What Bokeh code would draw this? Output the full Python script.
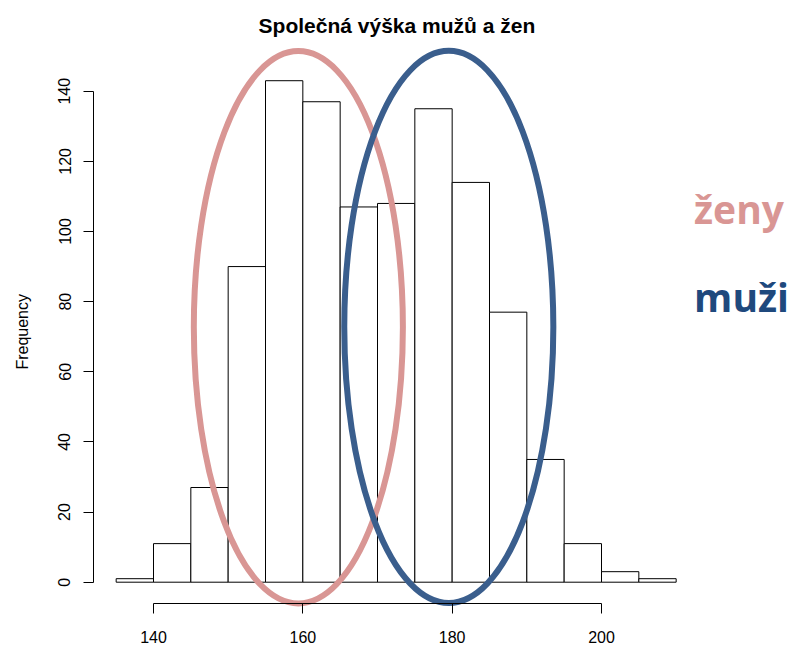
import math
from bokeh.plotting import figure
from bokeh.models import Range1d, FixedTicker, Label
from bokeh.embed import file_html
from bokeh.resources import INLINE

# ---- data ----
bin_edges = [135, 140, 145, 150, 155, 160, 165, 170, 175, 180, 185, 190, 195, 200, 205, 210]
counts = [1, 11, 27, 90, 143, 137, 107, 108, 135, 114, 77, 35, 11, 3, 1]
x_ticks = [140, 160, 180, 200]
y_ticks = [0, 20, 40, 60, 80, 100, 120, 140]

# highlight ellipses (data units): zeny (women), muzi (men)
ellipse_x = [159.4, 179.55]
ellipse_y = [72.7, 72.8]
ellipse_w = [28.0, 28.0]
ellipse_h = [157.5, 157.5]
ellipse_colors = ["#D99694", "#3A5E8D"]

title_text = "Společná výška mužů a žen"
y_label = "Frequency"
group_labels = ["ženy", "muži"]
group_label_colors = ["#D99694", "#1F497D"]

# ---- figure: the frame spans the whole canvas, axes sit at fixed locations ----
X0, X1 = 119.509, 225.58
Y0, Y1 = -18.62, 165.87
p = figure(width=792, height=647,
           x_range=Range1d(X0, X1), y_range=Range1d(Y0, Y1),
           output_backend="svg", toolbar_location=None, title=None,
           min_border_left=0, min_border_right=0,
           min_border_top=0, min_border_bottom=0)
p.xgrid.visible = False
p.ygrid.visible = False
p.outline_line_color = None
p.background_fill_color = "white"
p.border_fill_color = "white"

p.quad(left=bin_edges[:-1], right=bin_edges[1:], bottom=0, top=counts,
       fill_color="white", line_color="black", line_width=1)

for cx, cy, w, h, c in zip(ellipse_x, ellipse_y, ellipse_w, ellipse_h, ellipse_colors):
    p.ellipse(x=[cx], y=[cy], width=[w], height=[h], fill_alpha=0,
              line_color=c, line_width=6)

font = "Liberation Sans"
for ax in (p.xaxis[0], p.yaxis[0]):
    ax.axis_line_color = "black"
    ax.major_tick_line_color = "black"
    ax.minor_tick_line_color = None
    ax.major_tick_in = 0
    ax.major_tick_out = 10
    ax.major_label_text_font = font
    ax.major_label_text_font_size = "16px"
    ax.major_label_text_color = "black"

p.xaxis[0].ticker = FixedTicker(ticks=x_ticks)
p.xaxis[0].bounds = (x_ticks[0], x_ticks[-1])
p.xaxis[0].fixed_location = -6.07
p.xaxis[0].major_label_standoff = 18

p.yaxis[0].ticker = FixedTicker(ticks=y_ticks)
p.yaxis[0].bounds = (y_ticks[0], y_ticks[-1])
p.yaxis[0].fixed_location = 131.965
p.yaxis[0].major_label_orientation = "vertical"
p.yaxis[0].major_label_standoff = 13

p.add_layout(Label(x=122.4, y=71.4, text=y_label, text_font=font,
                   text_font_size="16px", angle=math.pi / 2,
                   text_align="center", text_baseline="alphabetic",
                   text_color="black"))

p.add_layout(Label(x=172.6, y=158.6, text=title_text, text_font=font,
                   text_font_size="21px", text_font_style="bold",
                   text_align="center", text_baseline="alphabetic",
                   text_color="black"))

p.add_layout(Label(x=212.4, y=106.6, text=group_labels[0], text_font="Open Sans",
                   text_font_size="39px", text_font_style="bold",
                   text_align="left", text_baseline="alphabetic",
                   text_color=group_label_colors[0]))
p.add_layout(Label(x=212.4, y=81.6, text=group_labels[1], text_font="Open Sans",
                   text_font_size="39px", text_font_style="bold",
                   text_align="left", text_baseline="alphabetic",
                   text_color=group_label_colors[1]))

open("out.html", "w").write(file_html(p, INLINE))
